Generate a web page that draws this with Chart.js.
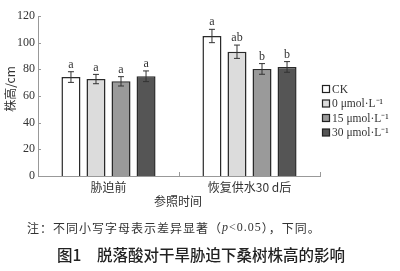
<!DOCTYPE html>
<html><head><meta charset="utf-8">
<script src="https://cdn.jsdelivr.net/npm/chart.js@4/dist/chart.umd.min.js"></script>
<style>html,body{margin:0;padding:0;background:#fff}#wrap{width:400px;height:271px;position:relative}</style>
</head><body><div id="wrap"><canvas id="c" width="400" height="271"></canvas></div>
<script>
const categories = ['胁迫前', '恢复供水30 d后'];
const seriesNames = ['CK', '0 μmol·L⁻¹', '15 μmol·L⁻¹', '30 μmol·L⁻¹'];
const ckValues = [74.2, 105];
const zeroValues = [72.7, 93.2];
const fifteenValues = [71, 80.3];
const thirtyValues = [74.8, 81.8];
const ckErr = [4, 5];
const zeroErr = [3.5, 5];
const fifteenErr = [3.5, 4];
const thirtyErr = [4, 4];
const ckLetters = ['a', 'a'];
const zeroLetters = ['a', 'ab'];
const fifteenLetters = ['a', 'b'];
const thirtyLetters = ['a', 'b'];
const yTicks = [0, 20, 40, 60, 80, 100, 120];

const colors = ['#ffffff', '#dcdcdc', '#9a9a9a', '#555555'];
const SERIF = "'Liberation Serif', 'Noto Sans CJK SC', serif";
const CJK = "'Noto Sans CJK SC', 'Liberation Serif', sans-serif";

const values = [ckValues, zeroValues, fifteenValues, thirtyValues];
const errs = [ckErr, zeroErr, fifteenErr, thirtyErr];
const letters = [ckLetters, zeroLetters, fifteenLetters, thirtyLetters];

const extras = {
  id: 'extras',
  afterDatasetsDraw(chart) {
    const ctx = chart.ctx;
    const y = chart.scales.y, x = chart.scales.x;
    ctx.save();
    values.forEach((vals, di) => {
      const meta = chart.getDatasetMeta(di);
      meta.data.forEach((bar, i) => {
        const cx = bar.x;
        const top = y.getPixelForValue(vals[i] + errs[di][i]);
        const bot = y.getPixelForValue(vals[i] - errs[di][i]);
        ctx.strokeStyle = '#333'; ctx.lineWidth = 1;
        ctx.beginPath();
        ctx.moveTo(cx, top); ctx.lineTo(cx, bot);
        ctx.moveTo(cx - 3, top); ctx.lineTo(cx + 3, top);
        ctx.moveTo(cx - 3, bot); ctx.lineTo(cx + 3, bot);
        ctx.stroke();
        ctx.fillStyle = '#333';
        ctx.font = '12px ' + SERIF;
        ctx.textAlign = 'center'; ctx.textBaseline = 'bottom';
        ctx.fillText(letters[di][i], cx, top - 1);
      });
    });
    ctx.strokeStyle = '#999'; ctx.lineWidth = 1;
    ctx.beginPath();
    yTicks.forEach(v => {
      const py = Math.round(y.getPixelForValue(v)) + 0.5;
      ctx.moveTo(x.left, py); ctx.lineTo(x.left + 3, py);
    });
    const half = (x.getPixelForValue(1) - x.getPixelForValue(0)) / 2;
    [0, 1].forEach(i => {
      const px = Math.round(x.getPixelForValue(i) + half) + 0.5;
      ctx.moveTo(px, y.bottom); ctx.lineTo(px, y.bottom - 4);
    });
    ctx.stroke();
    ctx.fillStyle = '#333';
    ctx.font = '12px ' + CJK;
    ctx.textAlign = 'center'; ctx.textBaseline = 'middle';
    ctx.fillText('参照时间', 178, 201);
    ctx.save();
    ctx.translate(10, 89); ctx.rotate(-Math.PI / 2);
    ctx.font = '12px ' + CJK;
    ctx.fillText('株高/cm', 0, 0);
    ctx.restore();
    seriesNames.forEach((n, i) => {
      const ly = 89 + i * 14.5;
      ctx.fillStyle = colors[i];
      ctx.fillRect(322.5, ly - 3.5, 7, 7);
      ctx.strokeStyle = '#222'; ctx.lineWidth = 1.2;
      ctx.strokeRect(322.5, ly - 3.5, 7, 7);
      ctx.fillStyle = '#333';
      ctx.font = '11.5px ' + SERIF;
      ctx.textAlign = 'left'; ctx.textBaseline = 'middle';
      ctx.fillText(n, 332, ly + 0.5);
    });
    ctx.fillStyle = '#333';
    ctx.textBaseline = 'middle'; ctx.textAlign = 'left';
    ctx.letterSpacing = '1px';
    const parts = [['注：不同小写字母表示差异显著（', CJK, ''], ['p', SERIF, 'italic '], ['<0.05', SERIF, ''], ['），下同。', CJK, '']];
    let nx = 27;
    parts.forEach(p => {
      ctx.font = p[2] + '12px ' + p[1];
      ctx.fillText(p[0], nx, 228);
      nx += ctx.measureText(p[0]).width;
    });
    ctx.letterSpacing = '0px';
    ctx.font = '500 15.5px ' + CJK;
    ctx.fillStyle = '#222';
    ctx.fillText('图1', 57, 255);
    ctx.fillText('脱落酸对干旱胁迫下桑树株高的影响', 97, 255);
    ctx.restore();
  }
};

new Chart(document.getElementById('c'), {
  type: 'bar',
  data: {
    labels: categories,
    datasets: seriesNames.map((n, i) => ({
      label: n,
      data: values[i],
      backgroundColor: colors[i],
      borderColor: '#2a2a2a',
      borderWidth: 1.5,
      barPercentage: 0.76,
      categoryPercentage: 0.71
    }))
  },
  options: {
    responsive: false,
    animation: false,
    devicePixelRatio: 1,
    layout: { padding: { left: 0, right: 80, top: 16, bottom: 0 } },
    plugins: { legend: { display: false }, tooltip: { enabled: false } },
    scales: {
      x: {
        grid: { display: false, drawTicks: false },
        border: { color: '#999', width: 1 },
        ticks: { padding: 4, color: '#333', font: { family: CJK, size: 12 } },
        afterFit: s => { s.height = 95; }
      },
      y: {
        min: 0, max: 120,
        afterBuildTicks: s => { s.ticks = yTicks.map(v => ({ value: v })); },
        grid: { display: false, drawTicks: false },
        border: { color: '#999', width: 1 },
        ticks: { padding: 3, color: '#333', font: { family: SERIF, size: 12 } },
        afterFit: s => { s.width = 38; }
      }
    }
  },
  plugins: [extras]
});
</script></body></html>
